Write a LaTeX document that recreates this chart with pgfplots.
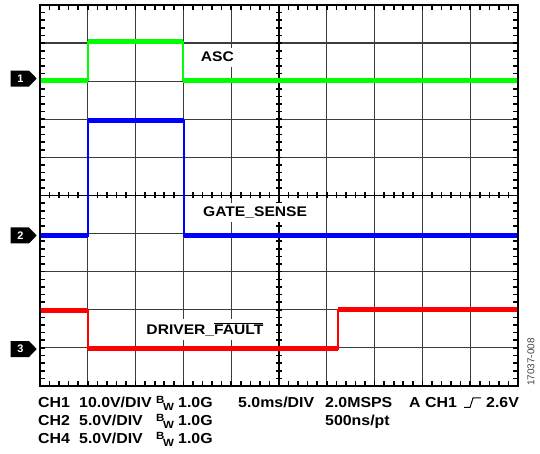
\documentclass[border=0pt]{standalone}
\usepackage{pgfplots}
\pgfplotsset{compat=1.18}
\usepackage{graphicx}
\usepackage{fontspec}
\setmainfont{Liberation Sans}
\definecolor{scgreen}{RGB}{0,255,0}
\definecolor{scblue}{RGB}{0,0,255}
\definecolor{scred}{RGB}{255,0,0}
\definecolor{gridgray}{RGB}{60,60,60}
\newcommand{\bw}{{\fontsize{10.5}{10.5}\selectfont\raisebox{4bp}{B}\kern-1.2bp\raisebox{-3bp}{W}}}
\newcommand{\sx}[1]{\scalebox{1.1}[1]{#1}}
\newcommand{\lx}[1]{\scalebox{1.12}[1]{#1}}
\begin{document}
\begin{tikzpicture}[x=1bp,y=1bp]
\useasboundingbox (0,0) rectangle (540,454);
% ---- graticule (drawn first, underneath the traces) ----
\draw[gridgray, line width=1.2bp] \foreach \i in {1,...,9}{ ({40+47.8*\i},68) -- ({40+47.8*\i},449) (40,{68+38.1*\i}) -- (518,{68+38.1*\i}) };
\draw[black, line width=1.5bp] (279,68) -- (279,449) (40,258.5) -- (518,258.5);
% border minor ticks and centre-cross ticks
\draw[black, line width=1.6bp] \foreach \j in {1,...,49}{
  ({40+9.56*\j},68) -- ++(0,5)
  ({40+9.56*\j},449) -- ++(0,-5)
  (40,{68+7.62*\j}) -- ++(5,0)
  (518,{68+7.62*\j}) -- ++(-5,0)
  (276,{68+7.62*\j}) -- ++(6,0)
  ({40+9.56*\j},255.5) -- ++(0,6)
};
\begin{axis}[
  at={(40bp,68bp)}, anchor=south west,
  scale only axis, width=478bp, height=381bp,
  xmin=0, xmax=10, ymin=0, ymax=10,
  hide axis,
  clip=false,
]
% CH1 green (ASC)
\addplot[scgreen, line width=1.8bp] coordinates {(0,8.03) (1,8.03) (1,9.03) (2.995,9.03) (2.995,8.03) (10,8.03)};
\addplot[scgreen, line width=5bp] coordinates {(0,8.03) (1,8.03)};
\addplot[scgreen, line width=5bp] coordinates {(1,9.03) (2.995,9.03)};
\addplot[scgreen, line width=5bp] coordinates {(2.995,8.03) (10,8.03)};
% CH2 blue (GATE_SENSE)
\addplot[scblue, line width=1.8bp] coordinates {(0,3.94) (1,3.94) (1,6.97) (3.01,6.97) (3.01,3.94) (10,3.94)};
\addplot[scblue, line width=5bp] coordinates {(0,3.94) (1,3.94)};
\addplot[scblue, line width=5bp] coordinates {(1,6.97) (3.01,6.97)};
\addplot[scblue, line width=5bp] coordinates {(3.01,3.94) (10,3.94)};
% CH4 red (DRIVER_FAULT)
\addplot[scred, line width=1.8bp] coordinates {(0,1.98) (1,1.98) (1,0.98) (6.24,0.98) (6.24,2.0) (10,2.0)};
\addplot[scred, line width=5bp] coordinates {(0,1.98) (1,1.98)};
\addplot[scred, line width=5bp] coordinates {(1,0.98) (6.24,0.98)};
\addplot[scred, line width=5bp] coordinates {(6.24,2.0) (10,2.0)};
% labels
\node[fill=white, inner sep=3bp, text height=10.5bp, text depth=2.5bp, font=\bfseries\fontsize{14}{14}\selectfont] at (axis cs:3.71,8.61) {\lx{ASC}};
\node[fill=white, inner sep=3bp, text height=10.5bp, text depth=2.5bp, font=\bfseries\fontsize{14}{14}\selectfont] at (axis cs:4.50,4.55) {\lx{GATE\_SENSE}};
\node[fill=white, inner sep=3bp, text height=12bp, text depth=2.5bp, font=\bfseries\fontsize{14}{14}\selectfont] at (axis cs:3.45,1.48) {\lx{DRIVER\_$\overline{\mbox{FAULT}}$}};
% channel marker anchors
\coordinate (m1) at (axis cs:0,8.07);
\coordinate (m2) at (axis cs:0,3.95);
\coordinate (m3) at (axis cs:0,0.97);
\end{axis}
\draw[black, line width=2bp] (40,68) rectangle (518,449);
% channel markers
\foreach \m/\n in {m1/1, m2/2, m3/3}{
  \fill ([xshift=-29.3bp,yshift=-8bp]\m) -- ([xshift=-11bp,yshift=-8bp]\m) -- ([xshift=-3.3bp]\m) -- ([xshift=-11bp,yshift=8bp]\m) -- ([xshift=-29.3bp,yshift=8bp]\m) -- cycle;
  \node[white, font=\bfseries\fontsize{11}{11}\selectfont] at ([xshift=-19.5bp]\m) {\n};
}
% rotated figure code
\node[rotate=90, text=black!75, font=\fontsize{10}{10}\selectfont] at (531,92) {17037-008};
% bottom text
\begin{scope}[every node/.style={anchor=base west, inner sep=0pt, font=\bfseries\fontsize{14.5}{14.5}\selectfont}]
\node at (38,46) {\sx{CH1}};
\node at (79,46) {\sx{10.0V/DIV}};
\node at (156,46) {\sx{\bw}};
\node at (178,46) {\sx{1.0G}};
\node at (238,46) {\sx{5.0ms/DIV}};
\node at (325,46) {\sx{2.0MSPS}};
\node at (409,46) {\sx{A CH1}};
\node at (486,46) {\sx{2.6V}};
\node at (38,28) {\sx{CH2}};
\node at (79,28) {\sx{5.0V/DIV}};
\node at (156,28) {\sx{\bw}};
\node at (178,28) {\sx{1.0G}};
\node at (325,28) {\sx{500ns/pt}};
\node at (38,10) {\sx{CH4}};
\node at (79,10) {\sx{5.0V/DIV}};
\node at (156,10) {\sx{\bw}};
\node at (178,10) {\sx{1.0G}};
\end{scope}
\draw[line width=1bp] (464,46.5) -- (470,46.5) -- (473,56) -- (481,56);
\end{tikzpicture}
\end{document}
